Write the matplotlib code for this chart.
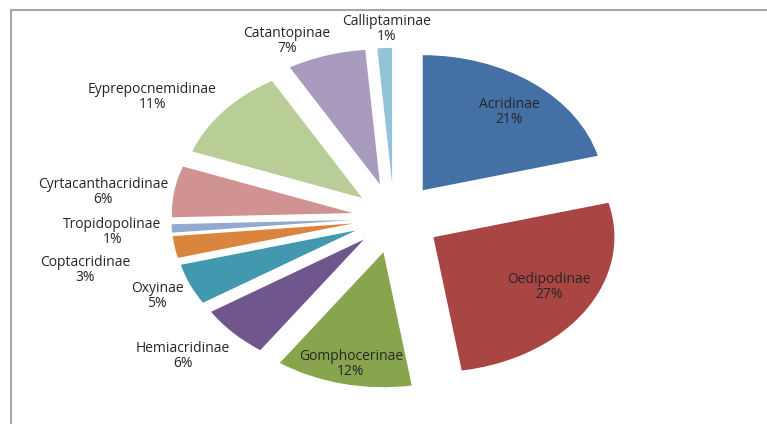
import numpy as np
import matplotlib.pyplot as plt
from matplotlib.patches import Rectangle

names = ["Acridinae", "Oedipodinae", "Gomphocerinae", "Hemiacridinae", "Oxyinae",
         "Coptacridinae", "Tropidopolinae", "Cyrtacanthacridinae", "Eyprepocnemidinae",
         "Catantopinae", "Calliptaminae"]
# shares (%); labels show them rounded
share = [20.9, 26.6, 12.2, 6.3, 4.9, 2.6, 1.0, 6.1, 11.1, 7.0, 1.3]

colors = ["#4470A5", "#A94543", "#88A54E", "#6F578E", "#4198AF", "#DB843D",
          "#93A9CF", "#D19392", "#B9CD96", "#A99BBD", "#92C3D6"]
explode = [0.26, 0.26, 0.26, 0.23, 0.23, 0.23, 0.23, 0.23, 0.23, 0.26, 0.26]
# label placement (radius, angle in degrees) picked to mimic excel "best fit"
lab_r = [1.01, 1.00, 1.11, 1.55, 1.43, 1.75, 1.56, 1.62, 1.61, 1.44, 1.40]
lab_a = [50.8, -30.9, -102.4, -138.8, -156.2, -167.4, -176.2, 173.1, 146.1, 114.3, 91.6]

plt.rcParams['font.family'] = ['Open Sans', 'DejaVu Sans']

fig = plt.figure(figsize=(7.67, 4.24), dpi=100)
ax = fig.add_axes([0, 0, 1, 1])

ax.pie(share, colors=colors, startangle=90, counterclock=False,
       explode=explode, radius=1.0, wedgeprops=dict(linewidth=0))
ax.set_aspect('auto')

# pie centre at pixel (394, 218), rx 181 px, ry 135 px
cx, cy, rx, ry = 394, 218, 181, 135
ax.set_xlim(-cx / rx, (767 - cx) / rx)
ax.set_ylim(-(424 - cy) / ry, cy / ry)
ax.axis('off')

for n, v, r, a in zip(names, share, lab_r, lab_a):
    t = np.deg2rad(a)
    ax.text(r * np.cos(t), r * np.sin(t), "%s\n%d%%" % (n, round(v)), ha='center', va='center',
            fontsize=10, color='#262626', linespacing=1.0)

fig.patches.append(Rectangle((11 / 767, -0.1), 1.2, (424 - 10) / 424 + 0.1,
                             transform=fig.transFigure, fill=False,
                             edgecolor='#A6A6A6', linewidth=1.5))

fig.savefig("out.png", dpi=100)
